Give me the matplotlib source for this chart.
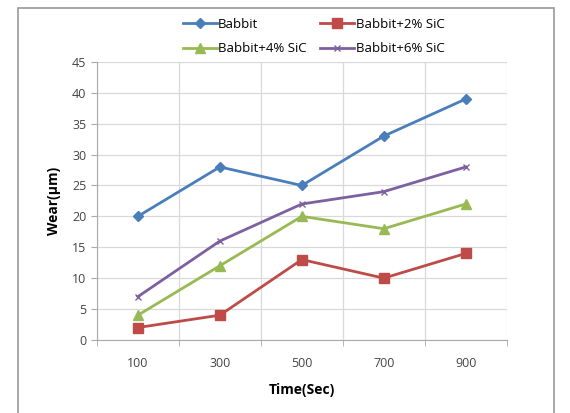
import numpy as np
import matplotlib.pyplot as plt
from matplotlib.patches import Rectangle

times = ["100", "300", "500", "700", "900"]
babbit = [20, 28, 25, 33, 39]
sic2 = [2, 4, 13, 10, 14]
sic4 = [4, 12, 20, 18, 22]
sic6 = [7, 16, 22, 24, 28]

plt.rcParams['font.family'] = ['Open Sans', 'DejaVu Sans']

fig = plt.figure(figsize=(5.70, 4.13), dpi=100)
ax = fig.add_axes([0.170, 0.177, 0.719, 0.673])

x = np.arange(len(times))
l1, = ax.plot(x, babbit, color="#4A7EBB", marker="D", markersize=5, lw=2, label="Babbit")
l2, = ax.plot(x, sic2, color="#BE4B48", marker="s", markersize=7, lw=2, label="Babbit+2% SiC")
l3, = ax.plot(x, sic4, color="#98B954", marker="^", markersize=7, lw=2, label="Babbit+4% SiC")
l4, = ax.plot(x, sic6, color="#7D60A0", marker="x", markersize=5, lw=2, label="Babbit+6% SiC")

ax.set_xlim(-0.5, len(times) - 0.5)
ax.set_ylim(0, 45)
ax.set_yticks(range(0, 46, 5))
ax.set_xticks(x)
ax.set_xticklabels(times)
ax.set_xticks(np.arange(-0.5, len(times), 1), minor=True)
ax.grid(True, axis="y", color="#d9d9d9", lw=0.9)
ax.grid(True, axis="x", which="minor", color="#d9d9d9", lw=0.9)
ax.tick_params(axis="x", which="major", length=0, pad=12, labelsize=9, colors="#444444")
ax.tick_params(axis="x", which="minor", length=4, color="#aaaaaa")
ax.tick_params(axis="y", length=4, color="#aaaaaa", labelsize=9, colors="#444444")
ax.set_axisbelow(True)
for s in ["top", "right"]:
    ax.spines[s].set_visible(False)
ax.spines["left"].set_color("#aaaaaa")
ax.spines["bottom"].set_color("#aaaaaa")

ax.set_xlabel("Time(Sec)", fontweight="bold", fontsize=10, labelpad=10)
ax.set_ylabel("Wear(\u03bcm)", fontweight="bold", fontsize=10, labelpad=8)

# legend filled column-wise, so order handles to get Babbit / 2% on the first row
fig.legend([l1, l3, l2, l4], [l1.get_label(), l3.get_label(), l2.get_label(), l4.get_label()],
           loc="upper center", bbox_to_anchor=(0.55, 0.985), ncol=2, frameon=False,
           fontsize=9.5, handlelength=2.6, columnspacing=1.0, labelspacing=0.85,
           handletextpad=0.1)

fig.patches.append(Rectangle((0.032, -0.01), 0.94, 0.99, transform=fig.transFigure,
                             fill=False, edgecolor="#999999", lw=1.2))

fig.savefig("out.png", dpi=100)
